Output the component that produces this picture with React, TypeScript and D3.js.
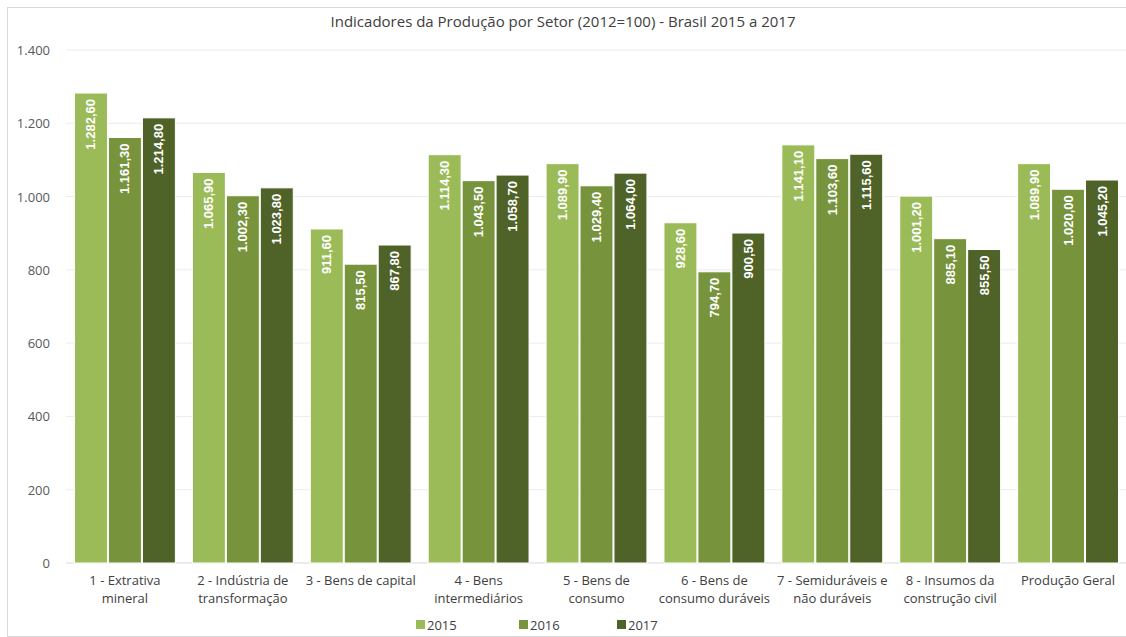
import React from "react";
import * as d3 from "d3";

const categories = [
  ["1 - Extrativa", "mineral"],
  ["2 - Indústria de", "transformação"],
  ["3 - Bens de capital"],
  ["4 - Bens", "intermediários"],
  ["5 - Bens de", "consumo"],
  ["6 - Bens de", "consumo duráveis"],
  ["7 - Semiduráveis e", "não duráveis"],
  ["8 - Insumos da", "construção civil"],
  ["Produção Geral"],
];
const seriesNames = ["2015", "2016", "2017"];
const values2015 = [1282.6, 1065.9, 911.6, 1114.3, 1089.9, 928.6, 1141.1, 1001.2, 1089.9];
const values2016 = [1161.3, 1002.3, 815.5, 1043.5, 1029.4, 794.7, 1103.6, 885.1, 1020.0];
const values2017 = [1214.8, 1023.8, 867.8, 1058.7, 1064.0, 900.5, 1115.6, 855.5, 1045.2];
const yTicks = [0, 200, 400, 600, 800, 1000, 1200, 1400];
const colors = ["#9BBB59", "#77933C", "#4F6228"];

const W = 1126, H = 637;
const left = 66, right = 1127, top = 50, bottom = 563;

const ptBR = (v: number, dec: number) => {
  const s = v.toFixed(dec);
  const [i, f] = s.split(".");
  const ii = i.replace(/\B(?=(\d{3})+(?!\d))/g, ".");
  return f ? ii + "," + f : ii;
};

export default function App() {
  const all = [values2015, values2016, values2017];
  const ids = categories.map((_, i) => String(i));
  const x0 = d3.scaleBand().domain(ids).range([left, right]).paddingInner(0.136).paddingOuter(0.068);
  const x1 = d3.scaleBand().domain(seriesNames).range([0, x0.bandwidth()]).padding(0);
  const y = d3.scaleLinear().domain([0, 1400]).range([bottom, top]);
  const font = "'Open Sans', 'Liberation Sans', sans-serif";
  const legendX = [416, 519, 617];
  return (
    <svg width={W} height={H} style={{ position: "absolute", left: 0, top: 0, background: "#fff" }}>
      <rect x={7.5} y={7.5} width={W - 6} height={H - 8} fill="#fff" stroke="#d9d9d9" />
      <text x={563} y={27} textAnchor="middle" fontFamily={font} fontSize={15} fill="#404040">
        Indicadores da Produção por Setor (2012=100) - Brasil 2015 a 2017
      </text>
      {yTicks.map((t) => (
        <g key={t}>
          <line x1={left} x2={right} y1={y(t)} y2={y(t)} stroke={t === 0 ? "#d9d9d9" : "#ececec"} strokeWidth={1} />
          <text x={50} y={y(t) + 5} textAnchor="end" fontFamily={font} fontSize={13} fill="#595959">
            {ptBR(t, 0)}
          </text>
        </g>
      ))}
      {ids.map((id, ci) => (
        <g key={id} transform={`translate(${x0(id)},0)`}>
          {seriesNames.map((s, si) => {
            const v = all[si][ci];
            const bx = x1(s)!;
            const bw = x1.bandwidth();
            return (
              <g key={s}>
                <rect x={bx + 0.5} y={y(v)} width={bw - 1} height={bottom - y(v)} fill={colors[si]} stroke="#fff" strokeWidth={1} />
                <text
                  transform={`translate(${bx + bw / 2 + 4.5},${y(v) + 6}) rotate(-90)`}
                  textAnchor="end"
                  fontFamily="'Liberation Sans', Arial, sans-serif"
                  fontSize={13}
                  fontWeight="bold"
                  fill="#fff"
                >
                  {ptBR(v, 2)}
                </text>
              </g>
            );
          })}
          {categories[ci].map((line, li) => (
            <text key={li} x={x0.bandwidth() / 2} y={585 + li * 18} textAnchor="middle" fontFamily={font} fontSize={13} fill="#404040">
              {line}
            </text>
          ))}
        </g>
      ))}
      {seriesNames.map((s, si) => (
        <g key={s}>
          <rect x={legendX[si]} y={620} width={9} height={9} fill={colors[si]} />
          <text x={legendX[si] + 11} y={629.5} fontFamily={font} fontSize={13} fill="#404040">
            {s}
          </text>
        </g>
      ))}
    </svg>
  );
}
